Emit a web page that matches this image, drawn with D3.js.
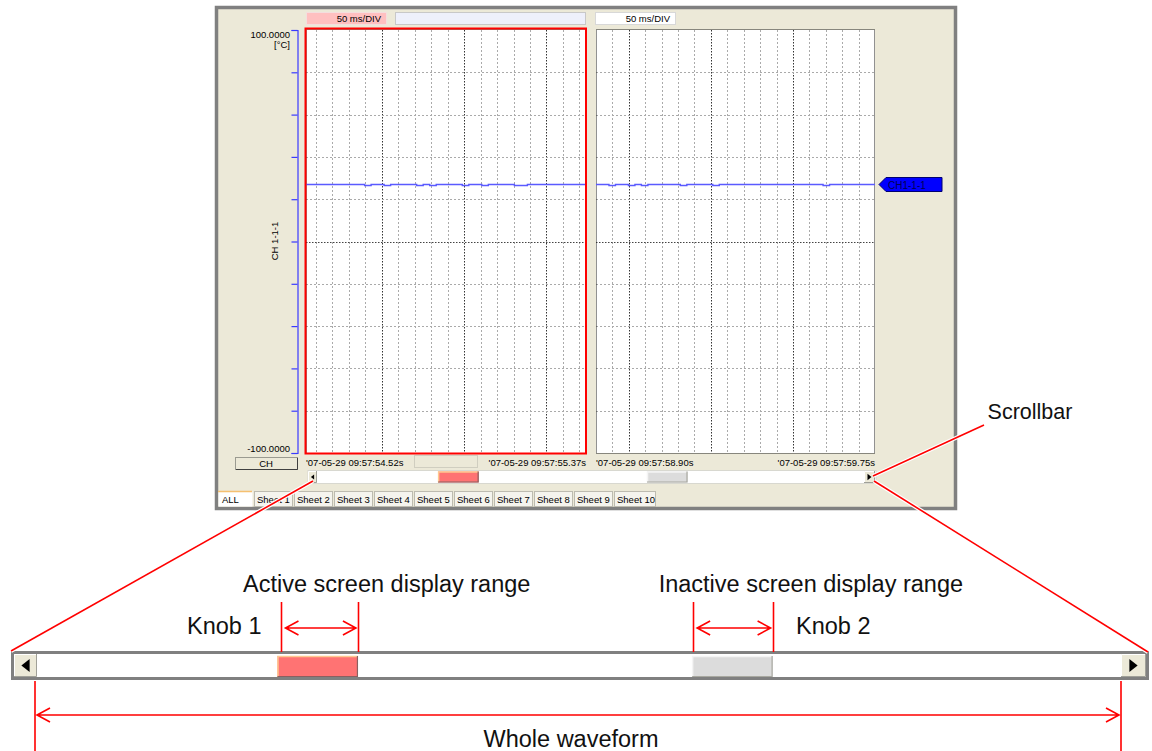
<!DOCTYPE html>
<html><head><meta charset="utf-8">
<script src="https://cdn.jsdelivr.net/npm/d3@7"></script>
<style>body{margin:0;background:#fff}svg{display:block}</style>
</head><body><svg id="c" width="1152" height="751"></svg>
<script>
// ---------- data ----------
const divLabel = "50 ms/DIV";
const yDomain = [-100, 100];
const yTicks = [-100, -80, -60, -40, -20, 0, 20, 40, 60, 80, 100];
const yTopLabel = "100.0000";
const yUnit = "[°C]";
const yBottomLabel = "-100.0000";
const channelName = "CH 1-1-1";
const channelTag = "CH1-1-1";
const chButton = "CH";
const timeLeft = [54.52, 55.37];
const timeRight = [58.90, 59.75];
const timeLabelsLeft = ["'07-05-29 09:57:54.52s", "'07-05-29 09:57:55.37s"];
const timeLabelsRight = ["'07-05-29 09:57:58.90s", "'07-05-29 09:57:59.75s"];
const waveLeft = [27.2,27.2,27.2,27.2,27.2,27.2,27.2,27.2,27.2,26.7,
                  27.2,27.2,26.7,27.2,27.2,27.2,27.2,26.7,27.2,26.7,
                  27.2,27.2,27.2,27.2,26.7,27.2,27.2,26.7,27.2,27.2,
                  27.2,27.2,26.7,26.7,27.2,27.2,27.2,27.2,27.2,27.2,
                  27.2,27.2,27.2,27.2];
const waveRight = [27.2,27.2,26.7,27.2,27.2,26.7,27.2,26.7,27.2,27.2,
                   27.2,27.2,27.2,26.7,27.2,27.2,27.2,27.2,26.7,27.2,
                   27.2,27.2,27.2,27.2,27.2,27.2,27.2,27.2,27.2,27.2,
                   27.2,27.2,27.2,27.2,27.2,26.7,27.2,27.2,27.2,27.2,
                   27.2,27.2,27.2,27.2];
const scrollDomain = [51.98, 63.43];   // whole waveform (s)
const tabs = ["ALL","Sheet 1","Sheet 2","Sheet 3","Sheet 4","Sheet 5","Sheet 6","Sheet 7","Sheet 8","Sheet 9","Sheet 10"];
const noteScrollbar = "Scrollbar";
const noteActive = "Active screen display range";
const noteInactive = "Inactive screen display range";
const noteKnob1 = "Knob 1";
const noteKnob2 = "Knob 2";
const noteWhole = "Whole waveform";

// ---------- drawing ----------
const svg = d3.select("#c");
const UI = "'Liberation Sans', Arial, sans-serif";
const SF = 9.5;
const RED = "#ff0000";
svg.append("rect").attr("width",1152).attr("height",751).attr("fill","#fff");

// panel
svg.append("rect").attr("x",216.5).attr("y",7.5).attr("width",739).attr("height",501)
  .attr("fill","#ece9d8").attr("stroke","#808080").attr("stroke-width",3.5);

const xL = d3.scaleLinear().domain(timeLeft).range([306, 586]);
const xR = d3.scaleLinear().domain(timeRight).range([596, 875]);
const y = d3.scaleLinear().domain(yDomain).range([453, 30]);

// header boxes
const hdr = svg.append("g").attr("font-family",UI).attr("font-size",SF);
hdr.append("rect").attr("x",306.5).attr("y",12.5).attr("width",80).attr("height",12).attr("fill","#ffc0c0").attr("stroke","#f4dede");
hdr.append("text").attr("x",381).attr("y",22).attr("text-anchor","end").text(divLabel);
hdr.append("rect").attr("x",395.5).attr("y",12.5).attr("width",190).attr("height",12).attr("fill","#eef0fb").attr("stroke","#c8c8c8");
hdr.append("rect").attr("x",595.5).attr("y",12.5).attr("width",80).attr("height",12).attr("fill","#ffffff").attr("stroke","#d8d8d8");
hdr.append("text").attr("x",670).attr("y",22).attr("text-anchor","end").text(divLabel);

function plot(x, dom, wave, active) {
  const g = svg.append("g");
  const [x0, x1] = x.range();
  g.append("rect").attr("x",x0).attr("y",30).attr("width",x1-x0).attr("height",423).attr("fill","#fff");
  const a = Math.round(dom[0]*100), b = Math.round(dom[1]*100);
  const first = Math.ceil((a+1)/5)*5;
  const vt = d3.range(first, b, 5);
  g.selectAll("line.v").data(vt).join("line")
    .attr("x1",d=>Math.round(x(d/100))+0.5).attr("x2",d=>Math.round(x(d/100))+0.5)
    .attr("y1",30).attr("y2",453)
    .attr("stroke",d=>d%25===0?"#333":"#aaa").attr("stroke-dasharray",d=>d%25===0?"1.5,1.5":"2,2");
  const ht = yTicks.slice(1,-1);
  g.selectAll("line.h").data(ht).join("line")
    .attr("x1",x0).attr("x2",x1)
    .attr("y1",d=>Math.round(y(d))+0.5).attr("y2",d=>Math.round(y(d))+0.5)
    .attr("stroke",d=>d===0?"#444":"#aaa").attr("stroke-dasharray",d=>d===0?"1.5,1.5":"2,2");
  // frame
  g.append("rect").attr("x",x0+0.5).attr("y",29.5).attr("width",x1-x0-1).attr("height",424)
    .attr("fill","none").attr("stroke","#222").attr("stroke-dasharray","1,1");
  // waveform
  const t = i => dom[0] + i*(dom[1]-dom[0])/(wave.length-1);
  const line = d3.line().x((d,i)=>x(t(i))).y(d=>Math.round(y(d))+0.5).curve(d3.curveStepAfter);
  g.append("path").attr("d",line(wave)).attr("fill","none").attr("stroke","#5a5aff").attr("stroke-width",1.4);
  if (active) {
    g.append("rect").attr("x",x0-0.5).attr("y",28.5).attr("width",x1-x0+0.5).attr("height",425)
      .attr("fill","none").attr("stroke",RED).attr("stroke-width",2);
  }
}
plot(xL, timeLeft, waveLeft, true);
plot(xR, timeRight, waveRight, false);

// y axis
const ax = svg.append("g").attr("transform","translate(297.5,0)")
  .call(d3.axisLeft(y).tickValues(yTicks).tickSize(6).tickSizeOuter(6).tickFormat(""));
ax.selectAll("path,line").attr("stroke","#3a3aff").attr("stroke-width",1.2);

// CH button
svg.append("rect").attr("x",235.5).attr("y",457.5).attr("width",62).attr("height",12).attr("fill","#ece9d8").attr("stroke","#9a9a90");
svg.append("path").attr("d","M236,469.5H297.5V458").attr("fill","none").attr("stroke","#404040");
svg.append("rect").attr("x",414.5).attr("y",455.5).attr("width",63).attr("height",12).attr("fill","#ece9d8").attr("stroke","#d0cec0");

const lab = svg.append("g").attr("font-family",UI).attr("font-size",SF).attr("fill","#000");
lab.append("text").attr("x",290).attr("y",38).attr("text-anchor","end").text(yTopLabel);
lab.append("text").attr("x",290).attr("y",48).attr("text-anchor","end").text(yUnit);
lab.append("text").attr("x",290).attr("y",452).attr("text-anchor","end").text(yBottomLabel);
lab.append("text").attr("transform","translate(278,241) rotate(-90)").attr("text-anchor","middle").text(channelName);
lab.append("text").attr("x",266).attr("y",467).attr("text-anchor","middle").text(chButton);

// time labels
lab.append("text").attr("x",xL.range()[0]).attr("y",466).text(timeLabelsLeft[0]);
lab.append("text").attr("x",xL.range()[1]).attr("y",466).attr("text-anchor","end").text(timeLabelsLeft[1]);
lab.append("text").attr("x",xR.range()[0]).attr("y",466).text(timeLabelsRight[0]);
lab.append("text").attr("x",xR.range()[1]).attr("y",466).attr("text-anchor","end").text(timeLabelsRight[1]);

// channel tag
const tagY = Math.round(y(waveRight[waveRight.length-1]))+0.5;
svg.append("path").attr("d",`M879,${tagY}L886,${tagY-7}H942V${tagY+7}H886Z`).attr("fill","#0000ff").attr("stroke","#000070");
svg.append("text").attr("x",888).attr("y",tagY+4).attr("font-family",UI).attr("font-size",10).attr("fill","#000050").text(channelTag);

// scrollbar helpers
function button(g, x0, y0, w, h, dir) {
  g.append("rect").attr("x",x0).attr("y",y0).attr("width",w).attr("height",h).attr("fill","#ece9d8");
  g.append("path").attr("d",`M${x0+0.5},${y0+h}V${y0+0.5}H${x0+w}`).attr("fill","none").attr("stroke","#fff");
  g.append("path").attr("d",`M${x0+w-0.5},${y0}V${y0+h-0.5}H${x0}`).attr("fill","none").attr("stroke","#a0a098");
  const cx = x0+w/2, cy = y0+h/2, s = Math.min(w,h)*0.18;
  const p = dir<0 ? `M${cx-s},${cy}L${cx+s},${cy-s*1.6}V${cy+s*1.6}Z` : `M${cx+s},${cy}L${cx-s},${cy-s*1.6}V${cy+s*1.6}Z`;
  g.append("path").attr("d",p).attr("fill","#000");
}
function knob(g, x0, x1, y0, h, active) {
  g.append("rect").attr("x",x0).attr("y",y0).attr("width",x1-x0).attr("height",h)
    .attr("fill",active?"#ff7373":"#dcdcdc");
  g.append("path").attr("d",`M${x0+0.5},${y0+h}V${y0+0.5}H${x1}`).attr("fill","none")
    .attr("stroke",active?"#ffc890":"#f4f4f4").attr("stroke-width",1.5);
  g.append("path").attr("d",`M${x1-0.5},${y0}V${y0+h-0.5}H${x0}`).attr("fill","none")
    .attr("stroke",active?"#8a6060":"#a8a8a0").attr("stroke-width",1.2);
}

// mini scrollbar
const sMini = d3.scaleLinear().domain(scrollDomain).range([317, 863]);
const mini = svg.append("g");
mini.append("rect").attr("x",308).attr("y",470.5).attr("width",568).attr("height",13).attr("fill","#fff").attr("stroke","#d8d8d0");
button(mini, 308, 471, 9, 12, -1);
button(mini, 864, 471, 11, 12, 1);
knob(mini, sMini(timeLeft[0]), sMini(timeLeft[1]), 471.5, 11, true);
knob(mini, sMini(timeRight[0]), sMini(timeRight[1]), 471.5, 11, false);

// tabs
const tg = svg.append("g").attr("font-family",UI).attr("font-size",SF);
const tabX = i => i===0 ? 218 : 254 + (i-1)*40;
const tabW = i => i===0 ? 34 : (i===10 ? 41 : 38);
tabs.forEach((t,i)=>{
  tg.append("rect").attr("x",tabX(i)+0.5).attr("y",491.5).attr("width",tabW(i)).attr("height",15)
    .attr("fill", i===0?"#fff":"#f5f4ee").attr("stroke", i===0?"none":"#bdbbb0");
  if (i===0) tg.append("line").attr("x1",218).attr("x2",252).attr("y1",491.5).attr("y2",491.5).attr("stroke","#f5c070").attr("stroke-width",1.5);
  tg.append("text").attr("x",tabX(i)+(i===0?4:3)).attr("y",503).text(t);
});

// big scrollbar
const sBig = d3.scaleLinear().domain(scrollDomain).range([37, 1121]);
const big = svg.append("g");
big.append("rect").attr("x",12.5).attr("y",652.5).attr("width",1135).attr("height",26)
  .attr("fill","#fff").attr("stroke","#808080").attr("stroke-width",3);
button(big, 14, 654, 23, 23, -1);
button(big, 1121, 654, 25, 23, 1);
knob(big, sBig(timeLeft[0]), sBig(timeLeft[1]), 656, 21, true);
knob(big, sBig(timeRight[0]), sBig(timeRight[1]), 656, 21, false);

// annotation lines
const ann = svg.append("g");
function redLine(d, halo) {
  if (halo) ann.append("path").attr("d",d).attr("fill","none").attr("stroke","#fff").attr("stroke-width",4);
  ann.append("path").attr("d",d).attr("fill","none").attr("stroke",RED).attr("stroke-width",1.6);
}
redLine("M313,481L11,651", true);
redLine("M874,481L1148,652", true);
redLine("M873,476L984,425", true);
function dblArrow(xa, xb, yy) {
  const d = `M${xa},${yy}H${xb}M${xa+13},${yy-7}L${xa},${yy}L${xa+13},${yy+7}M${xb-13},${yy-7}L${xb},${yy}L${xb-13},${yy+7}`;
  redLine(d, false);
}
const k1a = sBig(timeLeft[0])+4, k1b = sBig(timeLeft[1]);
const k2a = sBig(timeRight[0])+1, k2b = sBig(timeRight[1]);
[k1a, k1b, k2a, k2b].forEach(x=>redLine(`M${Math.round(x)+0.5},602V652`, false));
dblArrow(k1a+4, k1b-2, 628);
dblArrow(k2a+4, k2b-2, 628);
const wa = sBig(scrollDomain[0])-2, wb = sBig(scrollDomain[1]);
redLine(`M${wa},681V751M${wb},681V751`, false);
dblArrow(wa+2, wb-2, 715);

const nt = svg.append("g").attr("font-family",UI).attr("font-size",23.5).attr("fill","#111");
nt.append("text").attr("x",1030).attr("y",419).attr("text-anchor","middle").attr("font-size",21.5).text(noteScrollbar);
nt.append("text").attr("x",(k1a+k1b)/2+67).attr("y",592).attr("text-anchor","middle").text(noteActive);
nt.append("text").attr("x",(k2a+k2b)/2+78).attr("y",592).attr("text-anchor","middle").text(noteInactive);
nt.append("text").attr("x",187).attr("y",634).text(noteKnob1);
nt.append("text").attr("x",796).attr("y",634).text(noteKnob2);
nt.append("text").attr("x",(wa+wb)/2-7).attr("y",747).attr("text-anchor","middle").text(noteWhole);
</script></body></html>
